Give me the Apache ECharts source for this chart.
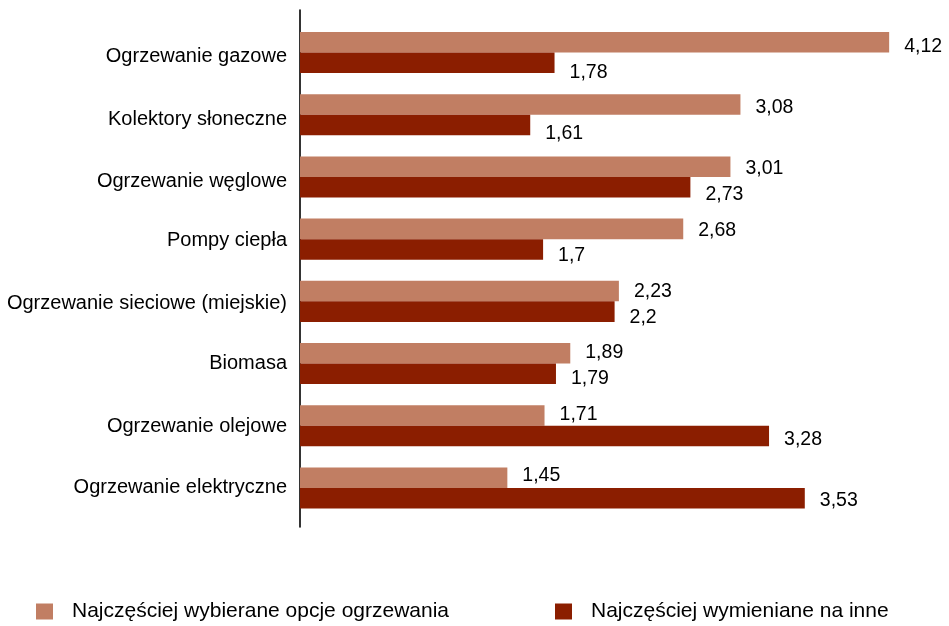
<!DOCTYPE html>
<html>
<head>
<meta charset="utf-8">
<script src="https://cdn.jsdelivr.net/npm/echarts@6/dist/echarts.min.js"></script>
<style>
html,body{margin:0;padding:0;background:#fff;}
#chart{width:949px;height:626px;}
</style>
</head>
<body>
<div id="chart"></div>
<script>
const categories = [
  "Ogrzewanie gazowe",
  "Kolektory słoneczne",
  "Ogrzewanie węglowe",
  "Pompy ciepła",
  "Ogrzewanie sieciowe (miejskie)",
  "Biomasa",
  "Ogrzewanie olejowe",
  "Ogrzewanie elektryczne"
];
const seriesNames = ["Najczęściej wybierane opcje ogrzewania", "Najczęściej wymieniane na inne"];
const chosenValues = [4.12, 3.08, 3.01, 2.68, 2.23, 1.89, 1.71, 1.45];
const replacedValues = [1.78, 1.61, 2.73, 1.7, 2.2, 1.79, 3.28, 3.53];

const FONT = "'Liberation Sans', Arial, sans-serif";
const fmt = p => String(p.value).replace('.', ',');

// small vertical drift of the original label layout
const catShift = [4, 4.5, 5, 1.5, 2, 0, 0.5, -1];
const lightItems = chosenValues.map((v, i) => ({value: v, label: {offset: [0, 4 - 0.85 * i]}}));
const darkItems = replacedValues.map((v, i) => ({value: v, label: {offset: [0, 10 - 1.1 * i]}}));

const rich = {};
catShift.forEach((s, i) => {
  rich['s' + i] = {
    fontSize: 20, color: '#000', fontFamily: FONT,
    padding: s >= 0 ? [2 * s, 0, 0, 0] : [0, 0, -2 * s, 0]
  };
});

const chart = echarts.init(document.getElementById('chart'), null, {renderer: 'canvas'});
chart.setOption({
  backgroundColor: '#ffffff',
  animation: false,
  textStyle: {fontFamily: FONT},
  grid: [
    {left: 300, width: 643.5, top: 21.4, height: 497.7, containLabel: false},
    {left: 300, width: 643.5, top: 10, height: 517, containLabel: false}
  ],
  xAxis: [
    {type: 'value', gridIndex: 0, min: 0, max: 4.5, show: false},
    {type: 'value', gridIndex: 1, min: 0, max: 1, show: false}
  ],
  yAxis: [
    {
      type: 'category', gridIndex: 0, data: categories, inverse: true,
      axisLine: {show: false}, axisTick: {show: false}, splitLine: {show: false},
      axisLabel: {
        margin: 13, color: '#000', fontSize: 20, fontFamily: FONT,
        formatter: (v, i) => '{s' + i + '|' + v + '}',
        rich: rich
      }
    },
    {
      type: 'value', gridIndex: 1, min: 0, max: 1,
      axisLine: {show: true, lineStyle: {color: '#000', width: 1.6}},
      axisTick: {show: false}, axisLabel: {show: false}, splitLine: {show: false}
    }
  ],
  legend: [
    {
      data: [seriesNames[0]], left: 36, top: 601, padding: 0, itemWidth: 17, itemHeight: 16,
      icon: 'rect',
      textStyle: {fontSize: 21, color: '#000', fontFamily: FONT, padding: [4, 0, 0, 14]}
    },
    {
      data: [seriesNames[1]], left: 555, top: 601, padding: 0, itemWidth: 17, itemHeight: 16,
      icon: 'rect',
      textStyle: {fontSize: 21, color: '#000', fontFamily: FONT, padding: [4, 0, 0, 14]}
    }
  ],
  series: [
    {
      name: seriesNames[0], type: 'bar', xAxisIndex: 0, yAxisIndex: 0,
      data: lightItems, barGap: '0%', barCategoryGap: '34%',
      itemStyle: {color: '#c17e63'},
      label: {show: true, position: 'right', distance: 15, formatter: fmt,
              color: '#000', fontSize: 19.5, fontFamily: FONT}
    },
    {
      name: seriesNames[1], type: 'bar', xAxisIndex: 0, yAxisIndex: 0,
      data: darkItems, barGap: '0%', barCategoryGap: '34%',
      itemStyle: {color: '#8b1e00'},
      label: {show: true, position: 'right', distance: 15, formatter: fmt,
              color: '#000', fontSize: 19.5, fontFamily: FONT}
    }
  ]
});
</script>
</body>
</html>
